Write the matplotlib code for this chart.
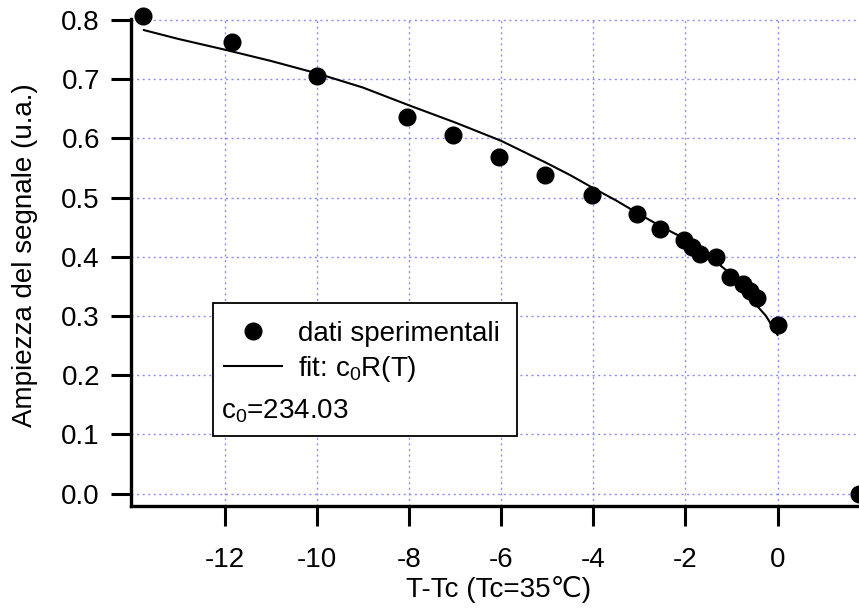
import matplotlib

matplotlib.use("Agg")
import matplotlib.pyplot as plt
from matplotlib.lines import Line2D
from matplotlib.patches import Rectangle

plt.rcParams["font.family"] = ["Liberation Sans", "DejaVu Sans"]
plt.rcParams["mathtext.fontset"] = "custom"
plt.rcParams["mathtext.rm"] = "Liberation Sans"
plt.rcParams["axes.unicode_minus"] = False

# measured amplitude vs T - Tc
t_dati = [-13.76, -11.84, -10.0, -8.04, -7.04, -6.04, -5.05, -4.03, -3.05, -2.55,
          -2.03, -1.86, -1.69, -1.34, -1.03, -0.75, -0.60, -0.45, 0.0, 1.77]
amp_dati = [0.806, 0.763, 0.706, 0.637, 0.605, 0.569, 0.539, 0.505, 0.473, 0.447,
            0.429, 0.417, 0.404, 0.400, 0.366, 0.354, 0.343, 0.331, 0.285, 0.0]

# fit curve c0*R(T)
t_fit = [-13.75, -13.0, -12.0, -11.0, -10.0, -9.0, -8.0, -7.0, -6.0, -5.0, -4.5,
         -4.0, -3.5, -3.0, -2.5, -2.0, -1.5, -1.0, -0.5, -0.25, 0.0]
amp_fit = [0.783, 0.768, 0.750, 0.731, 0.710, 0.686, 0.656, 0.627, 0.596, 0.558, 0.538,
           0.516, 0.495, 0.472, 0.450, 0.430, 0.402, 0.370, 0.322, 0.300, 0.268]

x_ticks = [-12, -10, -8, -6, -4, -2, 0]
y_ticks = [0.0, 0.1, 0.2, 0.3, 0.4, 0.5, 0.6, 0.7, 0.8]

FS = 20
GRID_COLOR = "#8c8cff"

fig = plt.figure(figsize=(8.59, 6.09), dpi=100)
ax = fig.add_axes([0.1525, 0.1691, 0.8475, 0.799])

ax.plot(t_fit, amp_fit, color="black", lw=1.5, zorder=3)
ax.plot(t_dati, amp_dati, "o", color="black", ms=12, clip_on=False, zorder=4)

ax.set_xlim(-14.03, 1.767)
ax.set_ylim(-0.021, 0.801)
ax.set_xticks(x_ticks)
ax.set_yticks(y_ticks)
ax.set_yticklabels([f"{v:.1f}" for v in y_ticks])

ax.grid(True, color=GRID_COLOR, linestyle=(0, (1.5, 2.5)), linewidth=1.0)
ax.set_axisbelow(True)

for side in ("top", "right"):
    ax.spines[side].set_visible(False)
for side in ("left", "bottom"):
    ax.spines[side].set_linewidth(2.4)

ax.tick_params(axis="both", direction="out", length=14.4, width=2.2,
               labelsize=FS, color="black")
ax.tick_params(axis="x", pad=15)
ax.tick_params(axis="y", pad=8)

ax.set_xlabel("T-Tc (Tc=35℃)", fontsize=FS, va="center")
ax.xaxis.set_label_coords(0.505, -0.172)
ax.set_ylabel("Ampiezza del segnale (u.a.)", fontsize=FS, va="center")
ax.yaxis.set_label_coords(-0.1454, 0.515)

# legend box
box = Rectangle((213 / 859, 1 - 436 / 609), 304 / 859, 133 / 609,
                transform=fig.transFigure, facecolor="white", edgecolor="black",
                lw=1.3, clip_on=False, zorder=5)
ax.add_patch(box)

handles = [
    Line2D([], [], marker="o", color="black", ms=12, ls="none"),
    Line2D([], [], color="black", lw=1.5),
]
labels = ["dati sperimentali", r"fit: c$_\mathregular{0}$R(T)"]
leg = ax.legend(handles, labels, loc="upper left",
                bbox_to_anchor=(224 / 859, 1 - 321 / 609),
                bbox_transform=fig.transFigure, frameon=False, fontsize=FS,
                borderpad=0, borderaxespad=0, handlelength=2.09,
                handletextpad=0.58, labelspacing=0.24, numpoints=1)
leg.set_zorder(6)

fig.text(221 / 859, 1 - 418 / 609, r"c$_\mathregular{0}$=234.03", fontsize=FS,
         ha="left", va="baseline", zorder=7)

fig.savefig("out.png", dpi=100, facecolor="white")
plt.close(fig)
